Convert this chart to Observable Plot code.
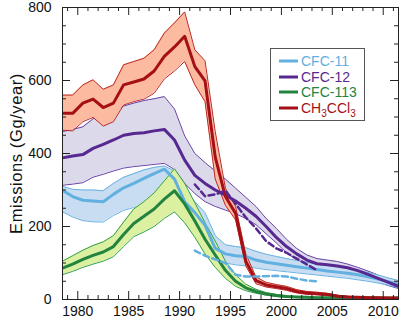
<!DOCTYPE html>
<html>
<head>
<meta charset="utf-8">
<script src="https://cdn.jsdelivr.net/npm/d3@7"></script>
<script src="https://cdn.jsdelivr.net/npm/@observablehq/plot@0.6"></script>
<style>
  html, body { margin: 0; padding: 0; background: #fff; }
  #chart svg { display: block; }
</style>
</head>
<body>
<div id="chart"></div>
<script>
// ---- data (mid-year values) ----
const years = [1978.5,1979.5,1980.5,1981.5,1982.5,1983.5,1984.5,1985.5,1986.5,1987.5,1988.5,1989.5,1990.5,1991.5,1992.5,1993.5,1994.5,1995.5,1996.5,1997.5,1998.5,1999.5,2000.5,2001.5,2002.5,2003.5,2004.5,2005.5,2006.5,2007.5,2008.5,2009.5,2010.5,2011.5];

const cfc11   = [299,282,272,270,268,288,306,318,332,345,357,330,268,238,203,140,125,120,118,108,102,98,94,90,86,82,78,75,72,68,62,56,49,42];
const cfc11Hi = [310,302,300,300,298,318,335,345,355,362,366,352,302,268,238,175,150,145,142,132,124,118,112,107,102,97,93,89,85,80,74,67,59,52];
const cfc11Lo = [240,226,216,213,212,230,244,252,262,275,285,270,222,188,160,110,100,95,92,86,82,79,76,73,70,67,64,61,58,54,50,45,39,33];

const cfc12   = [388,393,397,414,425,437,450,455,457,462,466,437,382,340,318,300,286,270,250,228,200,170,145,125,108,98,95,92,87,79,69,58,47,36];
const cfc12Hi = [460,466,473,495,505,515,530,538,545,550,556,522,448,400,375,352,330,305,280,255,222,195,165,140,122,112,108,104,97,88,78,67,57,48];
const cfc12Lo = [313,316,320,335,343,352,360,364,367,370,373,356,318,290,268,255,245,235,222,205,180,155,128,108,92,84,80,77,73,66,57,48,38,30];

const cfc113   = [86,97,110,121,130,145,178,208,228,248,275,298,262,215,165,122,80,50,32,22,15,11,8,7,6,5,5,5,4,4,4,4,4,4];
const cfc113Hi = [105,120,135,148,158,175,212,248,268,292,325,358,318,265,210,160,105,68,42,28,19,14,10,8,7,6,6,6,5,5,5,5,5,5];
const cfc113Lo = [68,77,88,97,105,117,145,172,185,200,222,240,210,170,125,88,58,36,24,17,12,8,6,5,4,4,4,4,3,3,3,3,3,3];

const ch3ccl3   = [510,510,538,549,526,538,588,596,604,626,666,692,721,638,599,390,282,236,105,52,40,35,30,22,18,16,14,9,7,6,5,5,4,4];
const ch3ccl3Hi = [560,560,588,602,576,588,643,652,661,684,730,758,788,684,654,460,305,255,125,62,47,41,36,27,22,20,17,12,9,8,7,6,5,5];
const ch3ccl3Lo = [464,462,487,499,475,487,533,542,549,565,604,626,652,588,542,330,258,218,92,43,34,30,25,18,14,13,11,7,5,4,4,4,3,3];

// alternative estimates (dashed)
const altYears = [1991.5,1992.5,1993.5,1994.5,1995.5,1996.5,1997.5,1998.5,1999.5,2000.5,2001.5,2002.5,2003.5];
const cfc12Alt = [315,283,288,298,262,225,195,160,140,128,112,96,80];
const cfc11Alt = [134,120,110,100,68,63,63,64,65,63,57,52,50];

const xTickLabels = [1980,1985,1990,1995,2000,2005,2010];
const yTickLabels = [0,200,400,600,800];
const seriesNames = ["CFC-11","CFC-12","CFC-113","CH3CCl3"];

// ---- styles ----
const col = {
  "CFC-11":  {line:"#62b0e0", fill:"#c8ddf1", edge:"#6ab2e2"},
  "CFC-12":  {line:"#57288f", fill:"#dcd9eb", edge:"#6a44a6"},
  "CFC-113": {line:"#23843f", fill:"#dcf0a2", edge:"#33a04e"},
  "CH3CCl3": {line:"#a50f15", fill:"#fcbba1", edge:"#bb2a26"}
};

const table = (c, lo, hi) => years.map((x,i) => ({x, c: c[i], lo: lo[i], hi: hi[i]}));
const T = {
  "CFC-11": table(cfc11, cfc11Lo, cfc11Hi),
  "CFC-12": table(cfc12, cfc12Lo, cfc12Hi),
  "CFC-113": table(cfc113, cfc113Lo, cfc113Hi),
  "CH3CCl3": table(ch3ccl3, ch3ccl3Lo, ch3ccl3Hi)
};
const alt12 = altYears.map((x,i)=>({x, y: cfc12Alt[i]}));
const alt11 = altYears.map((x,i)=>({x, y: cfc11Alt[i]}));

const W = 405, H = 324;
const mL = 62, mR = 7, mT = 7, mB = 25;
const x0 = 1978.5, x1 = 2011.5, y0 = 0, y1 = 800;
const pxPerYear = (W - mL - mR) / (x1 - x0);
const pxPerUnit = (H - mT - mB) / (y1 - y0);

const band = (name) => [
  Plot.areaY(T[name], {x: "x", y1: "lo", y2: "hi", fill: col[name].fill, clip: true}),
  Plot.line(T[name], {x: "x", y: "hi", stroke: col[name].edge, strokeWidth: 1, clip: true}),
  Plot.line(T[name], {x: "x", y: "lo", stroke: col[name].edge, strokeWidth: 1, clip: true})
];
const center = (name) => Plot.line(T[name], {x: "x", y: "c", stroke: col[name].line, strokeWidth: 3, strokeLinejoin: "round", clip: true});

// ticks (inward, on all four sides)
const allYears = d3.range(1979, 2012);
const allVals = d3.range(50, 800, 50);
const tlen = (major) => major ? 8 : 4;
const xTicks = [
  Plot.ruleX(allYears, {x: d => d, y1: () => 0, y2: d => tlen(d % 5 === 0) / pxPerUnit, stroke: "#222", strokeWidth: 1}),
  Plot.ruleX(allYears, {x: d => d, y1: () => 800, y2: d => 800 - tlen(d % 5 === 0) / pxPerUnit, stroke: "#222", strokeWidth: 1})
];
const yTicks = [
  Plot.ruleY(allVals, {y: d => d, x1: () => x0, x2: d => x0 + tlen(d % 200 === 0) / pxPerYear, stroke: "#222", strokeWidth: 1}),
  Plot.ruleY(allVals, {y: d => d, x1: () => x1, x2: d => x1 - tlen(d % 200 === 0) / pxPerYear, stroke: "#222", strokeWidth: 1})
];

const chart = Plot.plot({
  width: W, height: H,
  marginLeft: mL, marginRight: mR, marginTop: mT, marginBottom: mB,
  style: {fontFamily: "'Liberation Sans', Arial, Helvetica, sans-serif", fontSize: "14px", color: "#111", background: "#fff"},
  x: {domain: [x0, x1]},
  y: {domain: [y0, y1]},
  marks: [
    ...band("CFC-12"),
    ...band("CFC-11"),
    ...band("CFC-113"),
    ...band("CH3CCl3"),
    center("CFC-11"),
    center("CFC-113"),
    center("CFC-12"),
    center("CH3CCl3"),
    Plot.line(alt12, {x: "x", y: "y", stroke: col["CFC-12"].line, strokeWidth: 2.5, strokeDasharray: "6,3.5"}),
    Plot.line(alt11, {x: "x", y: "y", stroke: col["CFC-11"].line, strokeWidth: 2.5, strokeDasharray: "6,3.5"}),
    ...xTicks, ...yTicks,
    Plot.frame({stroke: "#222", strokeWidth: 1}),
    Plot.axisX({ticks: xTickLabels, tickFormat: d => String(d), tickSize: 0, tickPadding: 7, fontSize: 14, label: null}),
    Plot.axisY({ticks: yTickLabels, tickSize: 0, tickPadding: 11, fontSize: 14,
      label: "Emissions (Gg/year)", labelAnchor: "center", labelArrow: "none", labelOffset: 52})
  ]
});

document.getElementById("chart").appendChild(chart);

// ---- legend (inside the plot, top right) ----
const svg = d3.select(chart);
svg.selectAll("g[aria-label='y-axis label'] text").style("font-size", "16.5px").style("letter-spacing", "0.6px");
const lg = svg.append("g")
  .attr("font-family", "'Liberation Sans', Arial, Helvetica, sans-serif")
  .attr("font-size", 14)
  .attr("text-anchor", "start");
const bx = 270, by = 48, bw = 94, bh = 72;
lg.append("rect").attr("x", bx + 0.5).attr("y", by + 0.5).attr("width", bw).attr("height", bh)
  .attr("fill", "#fff").attr("stroke", "#555").attr("stroke-width", 1);
const rowY = [61, 77, 92, 108];
seriesNames.forEach((name, i) => {
  const yy = rowY[i];
  lg.append("line").attr("x1", bx + 9).attr("x2", bx + 28).attr("y1", yy).attr("y2", yy)
    .attr("stroke", col[name].line).attr("stroke-width", 3);
  const t = lg.append("text").attr("x", bx + 31).attr("y", yy + 5).attr("fill", col[name].line)
    .attr("text-anchor", "start");
  if (name === "CH3CCl3") {
    t.append("tspan").text("CH");
    t.append("tspan").text("3").attr("font-size", 10).attr("dy", 4);
    t.append("tspan").text("CCl").attr("dy", -4);
    t.append("tspan").text("3").attr("font-size", 10).attr("dy", 4);
  } else {
    t.text(name);
  }
});
</script>
</body>
</html>
